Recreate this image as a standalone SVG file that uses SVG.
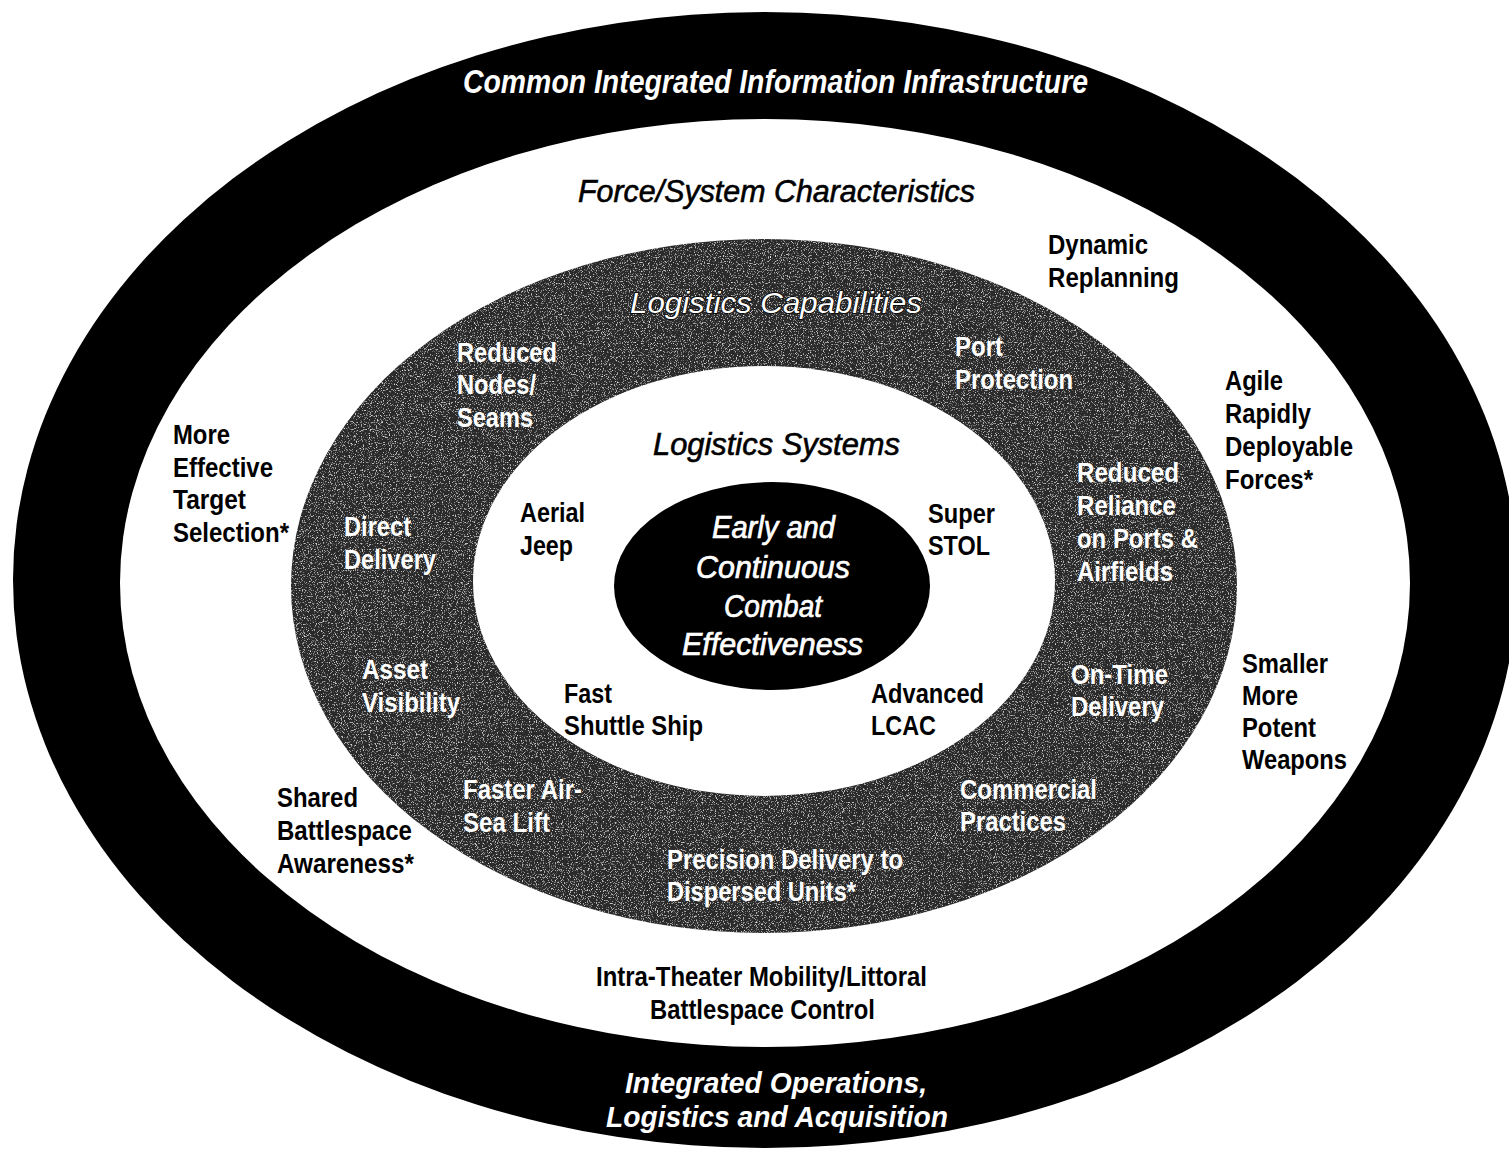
<svg xmlns="http://www.w3.org/2000/svg" width="1509" height="1151" viewBox="0 0 1509 1151">
<style>
text{font-family:"Liberation Sans",Arial,sans-serif;font-size:27px;font-weight:bold;}
.w{fill:#fff;}
.k{fill:#000;}
.it{font-style:italic;}
.t1{font-size:33px;}
.t3{font-size:30px;}
.t2{font-size:31px;font-weight:normal;stroke:#000;stroke-width:0.6px;}
.cap{font-size:29px;font-style:italic;font-weight:normal;fill:#fff;stroke:#000;stroke-width:1.4px;paint-order:stroke;}
.ce{font-size:31px;font-style:italic;font-weight:normal;fill:#fff;stroke:#fff;stroke-width:0.7px;}
</style>
<defs>
<filter id="grain" x="0" y="0" width="100%" height="100%">
<feTurbulence type="fractalNoise" baseFrequency="0.85" numOctaves="2" seed="7" result="n"/>
<feColorMatrix in="n" type="matrix" values="0 0 0 0 0.75  0 0 0 0 0.75  0 0 0 0 0.75  4 0 0 0 -2.25" result="g"/>
<feComposite in="g" in2="SourceGraphic" operator="in" result="gm"/>
<feMerge><feMergeNode in="SourceGraphic"/><feMergeNode in="gm"/></feMerge>
</filter>
</defs>
<rect width="1509" height="1151" fill="#fff"/>
<g id="ring-infrastructure">
<ellipse cx="765" cy="580" rx="752" ry="568" fill="#000"/>
<text class="w it t1" x="463" y="93" textLength="625" lengthAdjust="spacingAndGlyphs">Common Integrated Information Infrastructure</text>
<text class="w it t3" x="625" y="1093" textLength="302" lengthAdjust="spacingAndGlyphs">Integrated Operations,</text>
<text class="w it t3" x="606" y="1127" textLength="342" lengthAdjust="spacingAndGlyphs">Logistics and Acquisition</text>
</g>
<g id="ring-force-system">
<ellipse cx="765" cy="583" rx="645" ry="464" fill="#fff"/>
<text class="k it t2" x="578" y="202" textLength="397" lengthAdjust="spacingAndGlyphs">Force/System Characteristics</text>
</g>
<g id="ring-capabilities">
<ellipse cx="764" cy="586" rx="473" ry="347" fill="#2a2a2a" filter="url(#grain)"/>
<text class="cap" x="630" y="313" textLength="292" lengthAdjust="spacingAndGlyphs">Logistics Capabilities</text>
</g>
<g id="ring-systems">
<ellipse cx="764" cy="581" rx="291" ry="215" fill="#fff"/>
<text class="k it t2" x="653" y="455" textLength="247" lengthAdjust="spacingAndGlyphs">Logistics Systems</text>
</g>
<g id="core">
<ellipse cx="772" cy="586" rx="158" ry="104" fill="#000"/>
<text class="ce" x="712" y="538" textLength="123" lengthAdjust="spacingAndGlyphs">Early and</text>
<text class="ce" x="696" y="578" textLength="154" lengthAdjust="spacingAndGlyphs">Continuous</text>
<text class="ce" x="724" y="617" textLength="98" lengthAdjust="spacingAndGlyphs">Combat</text>
<text class="ce" x="682" y="655" textLength="181" lengthAdjust="spacingAndGlyphs">Effectiveness</text>
</g>
<g id="connectors"></g>
<g id="force-labels" class="k">
<g id="dynamic-replanning"><text x="1048" y="254" textLength="100" lengthAdjust="spacingAndGlyphs">Dynamic</text><text x="1048" y="287" textLength="131" lengthAdjust="spacingAndGlyphs">Replanning</text></g>
<g id="agile-forces"><text x="1225" y="390" textLength="58" lengthAdjust="spacingAndGlyphs">Agile</text><text x="1225" y="423" textLength="86" lengthAdjust="spacingAndGlyphs">Rapidly</text><text x="1225" y="456" textLength="128" lengthAdjust="spacingAndGlyphs">Deployable</text><text x="1225" y="489" textLength="88" lengthAdjust="spacingAndGlyphs">Forces*</text></g>
<g id="target-selection"><text x="173" y="444" textLength="57" lengthAdjust="spacingAndGlyphs">More</text><text x="173" y="477" textLength="100" lengthAdjust="spacingAndGlyphs">Effective</text><text x="173" y="509" textLength="73" lengthAdjust="spacingAndGlyphs">Target</text><text x="173" y="542" textLength="116" lengthAdjust="spacingAndGlyphs">Selection*</text></g>
<g id="smaller-weapons"><text x="1242" y="673" textLength="86" lengthAdjust="spacingAndGlyphs">Smaller</text><text x="1242" y="705" textLength="56" lengthAdjust="spacingAndGlyphs">More</text><text x="1242" y="737" textLength="74" lengthAdjust="spacingAndGlyphs">Potent</text><text x="1242" y="769" textLength="105" lengthAdjust="spacingAndGlyphs">Weapons</text></g>
<g id="shared-awareness"><text x="277" y="807" textLength="81" lengthAdjust="spacingAndGlyphs">Shared</text><text x="277" y="840" textLength="135" lengthAdjust="spacingAndGlyphs">Battlespace</text><text x="277" y="873" textLength="137" lengthAdjust="spacingAndGlyphs">Awareness*</text></g>
<g id="intra-theater"><text x="596" y="986" textLength="331" lengthAdjust="spacingAndGlyphs">Intra-Theater Mobility/Littoral</text><text x="650" y="1019" textLength="225" lengthAdjust="spacingAndGlyphs">Battlespace Control</text></g>
</g>
<g id="capability-labels" class="w">
<g id="reduced-nodes"><text x="457" y="362" textLength="100" lengthAdjust="spacingAndGlyphs">Reduced</text><text x="457" y="394" textLength="79" lengthAdjust="spacingAndGlyphs">Nodes/</text><text x="457" y="427" textLength="76" lengthAdjust="spacingAndGlyphs">Seams</text></g>
<g id="port-protection"><text x="955" y="356" textLength="48" lengthAdjust="spacingAndGlyphs">Port</text><text x="955" y="389" textLength="118" lengthAdjust="spacingAndGlyphs">Protection</text></g>
<g id="direct-delivery"><text x="344" y="536" textLength="67" lengthAdjust="spacingAndGlyphs">Direct</text><text x="344" y="569" textLength="92" lengthAdjust="spacingAndGlyphs">Delivery</text></g>
<g id="reduced-reliance"><text x="1077" y="482" textLength="102" lengthAdjust="spacingAndGlyphs">Reduced</text><text x="1077" y="515" textLength="99" lengthAdjust="spacingAndGlyphs">Reliance</text><text x="1077" y="548" textLength="121" lengthAdjust="spacingAndGlyphs">on Ports &amp;</text><text x="1077" y="581" textLength="96" lengthAdjust="spacingAndGlyphs">Airfields</text></g>
<g id="asset-visibility"><text x="362" y="679" textLength="66" lengthAdjust="spacingAndGlyphs">Asset</text><text x="362" y="712" textLength="98" lengthAdjust="spacingAndGlyphs">Visibility</text></g>
<g id="on-time-delivery"><text x="1071" y="684" textLength="97" lengthAdjust="spacingAndGlyphs">On-Time</text><text x="1071" y="716" textLength="93" lengthAdjust="spacingAndGlyphs">Delivery</text></g>
<g id="faster-lift"><text x="463" y="799" textLength="119" lengthAdjust="spacingAndGlyphs">Faster Air-</text><text x="463" y="832" textLength="87" lengthAdjust="spacingAndGlyphs">Sea Lift</text></g>
<g id="commercial-practices"><text x="960" y="799" textLength="137" lengthAdjust="spacingAndGlyphs">Commercial</text><text x="960" y="831" textLength="106" lengthAdjust="spacingAndGlyphs">Practices</text></g>
<g id="precision-delivery"><text x="667" y="869" textLength="236" lengthAdjust="spacingAndGlyphs">Precision Delivery to</text><text x="667" y="901" textLength="189" lengthAdjust="spacingAndGlyphs">Dispersed Units*</text></g>
</g>
<g id="system-labels" class="k">
<g id="aerial-jeep"><text x="520" y="522" textLength="65" lengthAdjust="spacingAndGlyphs">Aerial</text><text x="520" y="555" textLength="53" lengthAdjust="spacingAndGlyphs">Jeep</text></g>
<g id="super-stol"><text x="928" y="523" textLength="67" lengthAdjust="spacingAndGlyphs">Super</text><text x="928" y="555" textLength="62" lengthAdjust="spacingAndGlyphs">STOL</text></g>
<g id="fast-shuttle"><text x="564" y="703" textLength="48" lengthAdjust="spacingAndGlyphs">Fast</text><text x="564" y="735" textLength="139" lengthAdjust="spacingAndGlyphs">Shuttle Ship</text></g>
<g id="advanced-lcac"><text x="871" y="703" textLength="113" lengthAdjust="spacingAndGlyphs">Advanced</text><text x="871" y="735" textLength="65" lengthAdjust="spacingAndGlyphs">LCAC</text></g>
</g>
</svg>
